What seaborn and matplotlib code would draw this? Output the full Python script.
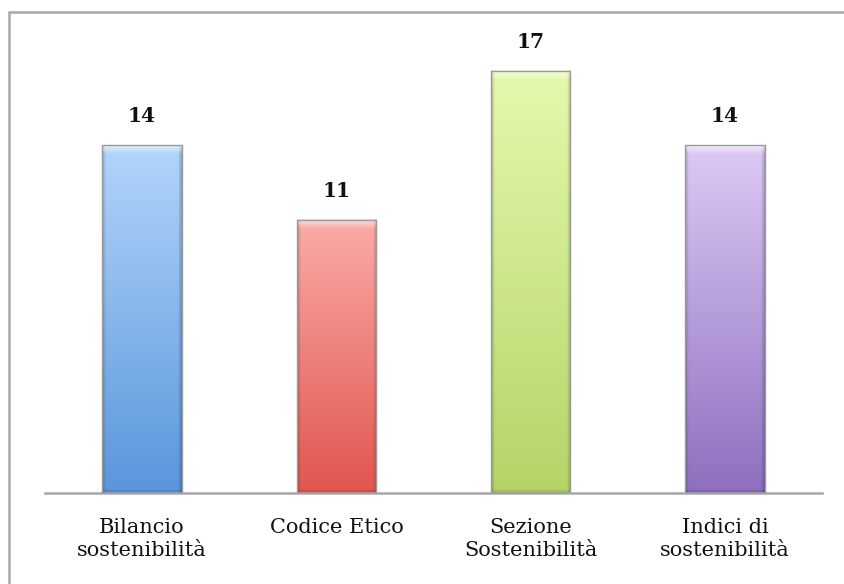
import numpy as np
import pandas as pd
import matplotlib
matplotlib.use("Agg")
import matplotlib.pyplot as plt
from matplotlib.colors import to_rgb
from matplotlib.patches import Rectangle
import seaborn as sns

categories = ["Bilancio\nsostenibilità", "Codice Etico", "Sezione\nSostenibilità", "Indici di\nsostenibilità"]
values = [14, 11, 17, 14]
top_colors = ["#b2d5fb", "#fbaca7", "#e5f9ad", "#dccaf5"]
bottom_colors = ["#5a96dc", "#e0564f", "#b4d468", "#8e6fbf"]

sns.set_theme(style="white")
plt.rcParams["font.family"] = ["DejaVu Serif"]

df = pd.DataFrame({"cat": categories, "val": values})

fig = plt.figure(figsize=(8.45, 5.84), dpi=100)
W, H = 845, 584
ax = fig.add_axes([45 / W, (H - 493) / H, (822 - 45) / W, 459.7 / H])

sns.barplot(data=df, x="cat", y="val", hue="cat", palette=bottom_colors,
            legend=False, width=0.41, ax=ax, saturation=1)
ax.set_ylim(0, 18.5)
ax.set_xlim(-0.5, 3.5)

for i, p in enumerate(ax.patches):
    x0, w = p.get_x(), p.get_width()
    h = p.get_height()
    px_h = h * 24.85
    rows, cols = int(px_h), 80
    t = np.linspace(0, 1, rows)[:, None, None]
    top = np.array(to_rgb(top_colors[i]))[None, None, :]
    bot = np.array(to_rgb(bottom_colors[i]))[None, None, :]
    img = top * (1 - t) + bot * t
    img = np.repeat(img, cols, axis=1)
    edge = np.ones(cols)
    ne = 4
    edge[:ne] = np.linspace(0.78, 0.97, ne)
    edge[-ne:] = np.linspace(0.97, 0.78, ne)
    img = img * edge[None, :, None]
    nb = 10
    fade = np.linspace(0.6, 0.0, nb)[:, None, None]
    img[:nb] = img[:nb] * (1 - fade) + fade
    nbot = 5
    dk = np.linspace(1.0, 0.85, nbot)[:, None, None]
    img[-nbot:] = img[-nbot:] * dk
    img = np.clip(img, 0, 1)
    ax.imshow(img, extent=[x0, x0 + w, 0, h], aspect="auto", origin="upper",
              zorder=2, interpolation="bilinear")
    p.set_facecolor("none")
    p.set_edgecolor("#9a9a9a")
    p.set_linewidth(1.0)
    p.set_zorder(3)
    ax.text(x0 + w / 2, h + 0.75, f"{values[i]}", ha="center", va="bottom",
            fontsize=14.5, fontweight="bold", color="#111111")

ax.set_xlim(-0.5, 3.5)
ax.set_ylim(0, 18.5)
ax.set_xlabel("")
ax.set_ylabel("")
ax.set_yticks([])
ax.tick_params(axis="x", length=0, pad=18, labelsize=15, colors="#111111")
for lbl in ax.get_xticklabels():
    lbl.set_linespacing(1.3)
for s in ["top", "left", "right"]:
    ax.spines[s].set_visible(False)
ax.spines["bottom"].set_color("#a6a6a6")
ax.spines["bottom"].set_linewidth(1.8)
ax.patch.set_alpha(0)

border = Rectangle((9 / W, -0.2), 1.2, 1 - 12 / H + 0.2, transform=fig.transFigure,
                   fill=False, edgecolor="#a8a8a8", linewidth=1.8, clip_on=False)
fig.patches.append(border)

fig.savefig("out.png", dpi=100)
